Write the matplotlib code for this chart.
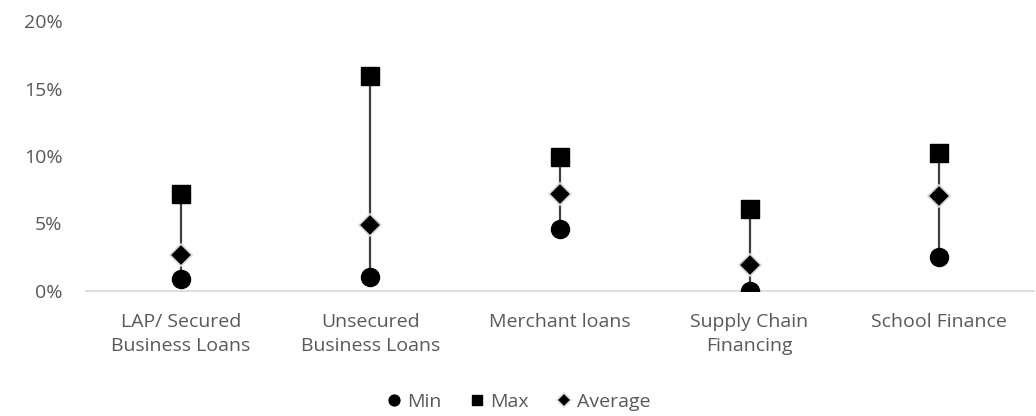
import matplotlib.pyplot as plt
from matplotlib.ticker import FuncFormatter

plt.rcParams['font.family'] = ['Open Sans', 'DejaVu Sans']

categories = ["LAP/ Secured\nBusiness Loans", "Unsecured\nBusiness Loans",
              "Merchant loans", "Supply Chain\nFinancing", "School Finance"]
min_vals = [0.009, 0.010, 0.046, 0.000, 0.025]
max_vals = [0.072, 0.159, 0.099, 0.061, 0.102]
avg_vals = [0.027, 0.049, 0.072, 0.019, 0.070]

text_col = "#595959"

fig = plt.figure(figsize=(10.36, 4.16), dpi=100)
ax = fig.add_axes([0.083, 0.3005, 0.915, 0.649])

x = list(range(len(categories)))

# high-low lines
ax.vlines(x, min_vals, max_vals, color="#404040", linewidth=1.6, zorder=1)

ax.plot(x, min_vals, linestyle="none", marker="o", markersize=13,
        color="black", label="Min", zorder=3)
ax.plot(x, max_vals, linestyle="none", marker="s", markersize=13,
        color="black", label="Max", zorder=3)
ax.plot(x, avg_vals, linestyle="none", marker="D", markersize=11.5,
        color="black", markeredgecolor="#d9d9d9", markeredgewidth=1.2,
        label="Average", zorder=3)

ax.set_xlim(-0.5, len(categories) - 0.5)
ax.set_ylim(0, 0.20)
ax.set_yticks([0, 0.05, 0.10, 0.15, 0.20])
ax.yaxis.set_major_formatter(FuncFormatter(lambda v, p: f"{v*100:.0f}%"))
ax.set_xticks(x)
ax.set_xticklabels(categories, linespacing=1.4)

for s in ["top", "right", "left"]:
    ax.spines[s].set_visible(False)
ax.spines["bottom"].set_color("#d9d9d9")
ax.spines["bottom"].set_linewidth(1.2)
ax.tick_params(axis="both", length=0, labelsize=14, labelcolor=text_col)
ax.tick_params(axis="x", pad=16)
ax.tick_params(axis="y", pad=17)

leg = fig.legend(loc="lower center", ncol=3, frameon=False, fontsize=14,
                 bbox_to_anchor=(0.5, -0.03), handletextpad=0.2,
                 handlelength=0.9, columnspacing=1.4, markerscale=0.6)
for t in leg.get_texts():
    t.set_color(text_col)

fig.savefig("out.png", dpi=100)
